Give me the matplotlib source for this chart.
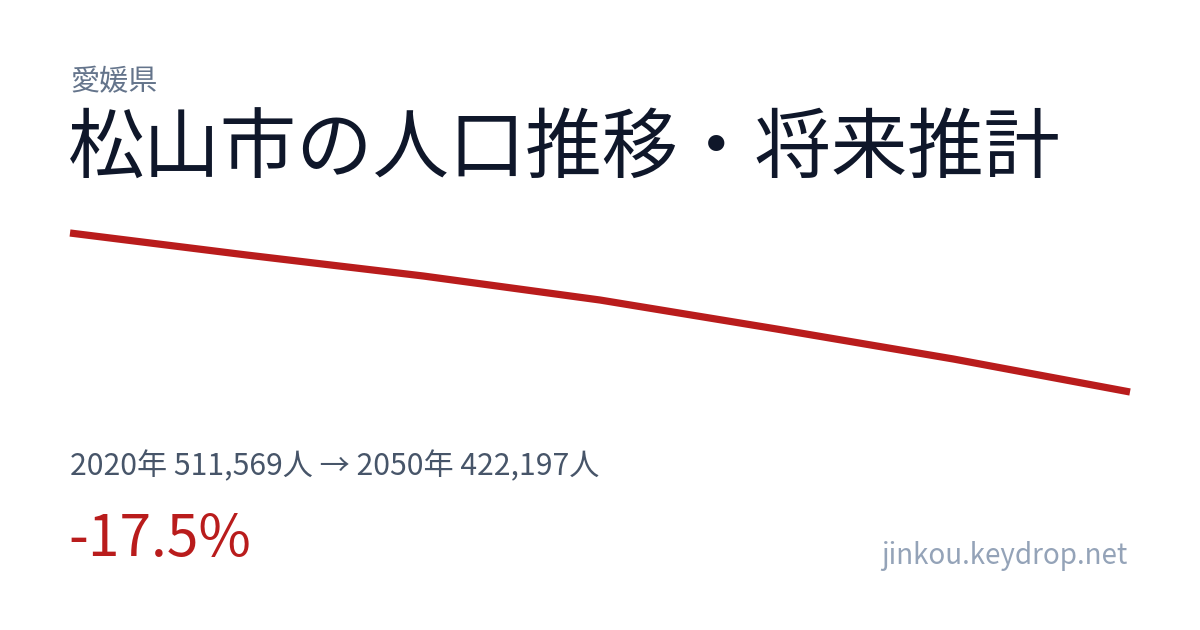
import matplotlib
matplotlib.use('Agg')
import matplotlib.pyplot as plt

plt.rcParams['font.family'] = ['Noto Sans CJK JP', 'DejaVu Sans']

years = [2020, 2025, 2030, 2035, 2040, 2045, 2050]
population = [511569, 499200, 487400, 473900, 457600, 440750, 422197]

pref = '愛媛県'
title = '松山市の人口推移・将来推計'
summary = '2020年 511,569人 → 2050年 422,197人'
change = '-17.5%'
site = 'jinkou.keydrop.net'

W, H = 1200, 630
fig = plt.figure(figsize=(12, 6.3), dpi=100)
fig.patch.set_facecolor('white')

# plot area: line spans x 70..1130, y 233..392 px
ax = fig.add_axes([70 / W, 1 - 392 / H, 1060 / W, 159 / H])
ax.plot(years, population, color='#b91c1c', linewidth=5.2,
        solid_capstyle='butt', clip_on=False)
ax.set_xlim(years[0], years[-1])
ax.set_ylim(min(population), max(population))
ax.axis('off')

def px(x, y):
    return x / W, 1 - y / H

fig.text(*px(70, 82), pref, fontsize=21, color='#64748b', va='center', ha='left')
fig.text(*px(68, 151), title, fontsize=55, color='#0f172a', va='center', ha='left')
fig.text(*px(70, 467), summary, fontsize=21.7, color='#475569', va='center', ha='left')
fig.text(*px(68, 540), change, fontsize=41, color='#b91c1c', va='center', ha='left')
fig.text(*px(1128, 556), site, fontsize=20, color='#94a3b8', va='center', ha='right')

fig.savefig('out.png', dpi=100, facecolor='white')
